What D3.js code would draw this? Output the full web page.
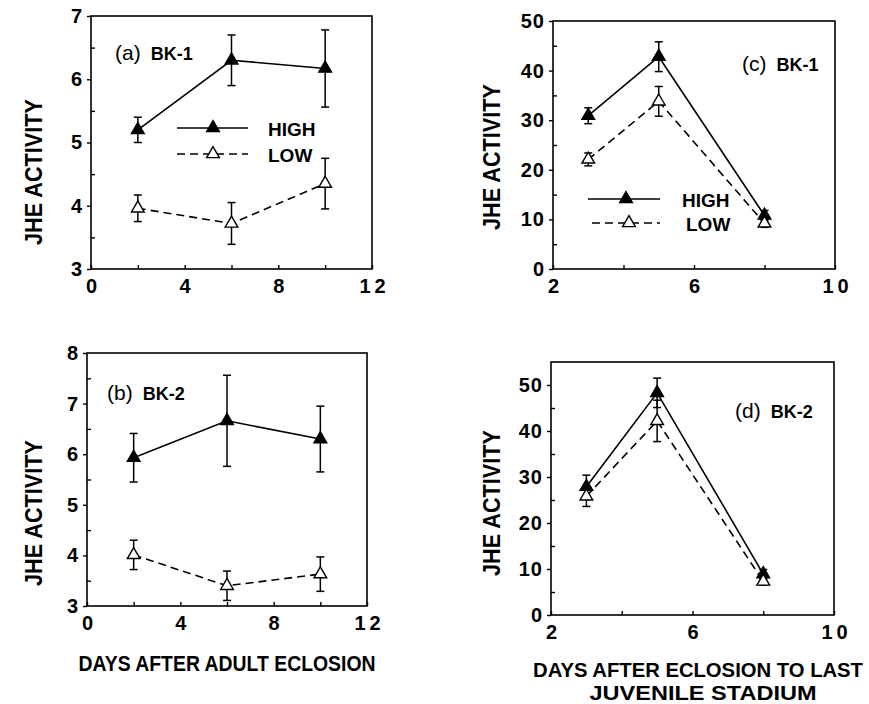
<!DOCTYPE html>
<html>
<head>
<meta charset="utf-8">
<script src="https://cdn.jsdelivr.net/npm/d3@7"></script>
<style>
  body { margin: 0; background: #fff; }
  svg { display: block; font-family: "Liberation Sans", Arial, Helvetica, sans-serif; }
</style>
</head>
<body>
<svg width="869" height="704"></svg>
<script>
// days on the x axis
var adultDays = [2, 6, 10];
var juvDays = [3, 5, 8];

// (a) BK-1, adult
var aHigh = [5.2, 6.3, 6.17], aHighErr = [0.2, 0.4, 0.61];
var aLow = [3.96, 3.72, 4.35], aLowErr = [0.21, 0.33, 0.4];
// (b) BK-2, adult
var bHigh = [5.93, 6.66, 6.3], bHighErr = [0.48, 0.9, 0.65];
var bLow = [4.01, 3.4, 3.63], bLowErr = [0.29, 0.29, 0.34];
// (c) BK-1, juvenile
var cHigh = [30.9, 42.8, 10.8], cHighErr = [1.6, 3.0, 1.0];
var cLow = [22.1, 33.8, 9.2], cLowErr = [1.3, 3.0, 0.8];
// (d) BK-2, juvenile
var dHigh = [27.9, 48.3, 8.9], dHighErr = [2.5, 3.2, 1.0];
var dLow = [25.8, 42.2, 7.3], dLowErr = [2.2, 4.5, 0.8];

var adultXTicks = [0, 4, 8, 12];
var juvXTicks = [2, 6, 10];

var svg = d3.select("svg");
var font = "'Liberation Sans', Arial, Helvetica, sans-serif";

function panel(o) {
    var x = d3.scaleLinear().domain(o.xDomain).range([o.left, o.right]);
    var y = d3.scaleLinear().domain(o.yDomain).range([o.bottom, o.top]);
    var g = svg.append("g");

    // minor ticks halfway between the labelled ones
    var xMinor = [], yMinor = [];
    for (var i = 0; i < o.xTicks.length - 1; i++) xMinor.push((o.xTicks[i] + o.xTicks[i + 1]) / 2);
    for (var j = 0; j < o.yTicks.length - 1; j++) yMinor.push((o.yTicks[j] + o.yTicks[j + 1]) / 2);

    var xa = g.append("g")
        .attr("transform", "translate(0," + o.bottom + ")")
        .call(d3.axisBottom(x).tickValues(o.xTicks.concat(xMinor)).tickSize(-4).tickPadding(10)
            .tickFormat(function(d) { return o.xTicks.indexOf(d) >= 0 ? d : ""; }));
    xa.select(".domain").remove();
    xa.selectAll("text").attr("font-size", 20).attr("font-weight", "bold")
        .attr("font-family", font).attr("letter-spacing", 4).attr("dx", 2);

    var ya = g.append("g")
        .attr("transform", "translate(" + o.left + ",0)")
        .call(d3.axisLeft(y).tickValues(o.yTicks).tickSize(4).tickPadding(4).tickFormat(d3.format("d")));
    ya.select(".domain").remove();
    ya.selectAll("text").attr("font-size", 20).attr("font-weight", "bold")
        .attr("font-family", font).attr("letter-spacing", 1);

    var ym = g.append("g")
        .attr("transform", "translate(" + o.left + ",0)")
        .call(d3.axisLeft(y).tickValues(yMinor).tickSize(-4).tickFormat(""));
    ym.select(".domain").remove();

    g.selectAll(".tick line").attr("stroke", "#000").attr("stroke-width", 1.4);

    g.append("rect")
        .attr("x", o.left).attr("y", o.top)
        .attr("width", o.right - o.left).attr("height", o.bottom - o.top)
        .attr("fill", "none").attr("stroke", "#000").attr("stroke-width", 1.6);

    var series = [
        { v: o.high, e: o.highErr, dash: null, fill: "#000" },
        { v: o.low, e: o.lowErr, dash: "8,5", fill: "#fff" }
    ];
    var line = d3.line()
        .x(function(d, i) { return x(o.days[i]); })
        .y(function(d) { return y(d); });

    series.forEach(function(s) {
        g.append("path").datum(s.v)
            .attr("d", line).attr("fill", "none").attr("stroke", "#000")
            .attr("stroke-width", 1.6).attr("stroke-dasharray", s.dash);
    });
    series.forEach(function(s) {
        var eb = g.append("g").selectAll("g").data(s.v).enter().append("g");
        eb.append("line")
            .attr("x1", function(d, i) { return x(o.days[i]); })
            .attr("x2", function(d, i) { return x(o.days[i]); })
            .attr("y1", function(d, i) { return y(d - s.e[i]); })
            .attr("y2", function(d, i) { return y(d + s.e[i]); });
        [-1, 1].forEach(function(sign) {
            eb.append("line")
                .attr("x1", function(d, i) { return x(o.days[i]) - 4; })
                .attr("x2", function(d, i) { return x(o.days[i]) + 4; })
                .attr("y1", function(d, i) { return y(d + sign * s.e[i]); })
                .attr("y2", function(d, i) { return y(d + sign * s.e[i]); });
        });
        eb.selectAll("line").attr("stroke", "#000").attr("stroke-width", 1.5);
    });
    series.forEach(function(s) {
        g.append("g").selectAll("path").data(s.v).enter().append("path")
            .attr("d", d3.symbol(d3.symbolTriangle, 70))
            .attr("transform", function(d, i) { return "translate(" + x(o.days[i]) + "," + y(d) + ")"; })
            .attr("fill", s.fill).attr("stroke", "#000").attr("stroke-width", 1.4);
    });

    // panel tag
    var t = g.append("text").attr("x", o.tagX).attr("y", o.tagY).attr("font-family", font);
    t.append("tspan").attr("font-size", 21).text(o.tag[0]);
    t.append("tspan").attr("dx", 10).attr("font-size", 18).attr("font-weight", "bold").text(o.tag[1]);

    // y title
    g.append("text")
        .attr("transform", "translate(" + o.yTitleX + "," + o.yTitleY + ") rotate(-90)")
        .attr("text-anchor", "middle").attr("font-family", font)
        .attr("font-size", 24).attr("font-weight", "bold")
        .attr("textLength", 146).attr("lengthAdjust", "spacingAndGlyphs")
        .text("JHE ACTIVITY");

    if (o.legend) {
        var L = o.legend;
        [{ y: L.y1, tx: L.tri1, x0: L.x0, dash: null, fill: "#000", label: "HIGH", lx: L.lx1 },
         { y: L.y2, tx: L.tri2, x0: L.x0b, dash: "8,5", fill: "#fff", label: "LOW", lx: L.lx2 }]
        .forEach(function(r) {
            g.append("line").attr("x1", r.x0).attr("x2", L.x1).attr("y1", r.y).attr("y2", r.y)
                .attr("stroke", "#000").attr("stroke-width", 1.6).attr("stroke-dasharray", r.dash);
            g.append("path").attr("d", d3.symbol(d3.symbolTriangle, 70))
                .attr("transform", "translate(" + r.tx + "," + r.y + ")")
                .attr("fill", r.fill).attr("stroke", "#000").attr("stroke-width", 1.4);
            g.append("text").attr("x", r.lx).attr("y", r.y + 7.5)
                .attr("font-family", font).attr("font-size", 19).attr("font-weight", "bold")
                .text(r.label);
        });
    }
}

panel({ left: 91, right: 372, top: 16, bottom: 269, xDomain: [0, 12], yDomain: [3, 7],
    xTicks: adultXTicks, yTicks: [3, 4, 5, 6, 7], days: adultDays,
    high: aHigh, highErr: aHighErr, low: aLow, lowErr: aLowErr,
    tag: ["(a)", "BK-1"], tagX: 115, tagY: 60, yTitleX: 42, yTitleY: 172,
    legend: { x0: 177, x0b: 177, x1: 248, y1: 128, y2: 154, tri1: 213, tri2: 213, lx1: 268, lx2: 268 } });

panel({ left: 87, right: 367, top: 353, bottom: 606, xDomain: [0, 12], yDomain: [3, 8],
    xTicks: adultXTicks, yTicks: [3, 4, 5, 6, 7, 8], days: adultDays,
    high: bHigh, highErr: bHighErr, low: bLow, lowErr: bLowErr,
    tag: ["(b)", "BK-2"], tagX: 107, tagY: 400, yTitleX: 42, yTitleY: 513 });

panel({ left: 553, right: 835, top: 21, bottom: 269, xDomain: [2, 10], yDomain: [0, 50],
    xTicks: juvXTicks, yTicks: [0, 10, 20, 30, 40, 50], days: juvDays,
    high: cHigh, highErr: cHighErr, low: cLow, lowErr: cLowErr,
    tag: ["(c)", "BK-1"], tagX: 742, tagY: 71, yTitleX: 500, yTitleY: 157,
    legend: { x0: 588, x0b: 592, x1: 660, y1: 199, y2: 223, tri1: 626, tri2: 629, lx1: 682, lx2: 686 } });

panel({ left: 551, right: 834, top: 362, bottom: 615, xDomain: [2, 10], yDomain: [0, 55],
    xTicks: juvXTicks, yTicks: [0, 10, 20, 30, 40, 50], days: juvDays,
    high: dHigh, highErr: dHighErr, low: dLow, lowErr: dLowErr,
    tag: ["(d)", "BK-2"], tagX: 735, tagY: 418, yTitleX: 500, yTitleY: 503 });

// x titles: bold face stretched a little upward, as in the print
function title(txt, cx, by, len, sy) {
    svg.append("text")
        .attr("transform", "translate(" + cx + "," + by + ") scale(1," + sy + ")")
        .attr("text-anchor", "middle")
        .attr("font-family", font).attr("font-size", 19).attr("font-weight", "bold")
        .attr("textLength", len).attr("lengthAdjust", "spacingAndGlyphs").text(txt);
}
title("DAYS AFTER ADULT ECLOSION", 227, 671, 297, 1.15);
title("DAYS AFTER ECLOSION TO LAST", 698, 677, 330, 1.05);
title("JUVENILE STADIUM", 703, 700, 227, 1.05);
</script>
</body>
</html>
